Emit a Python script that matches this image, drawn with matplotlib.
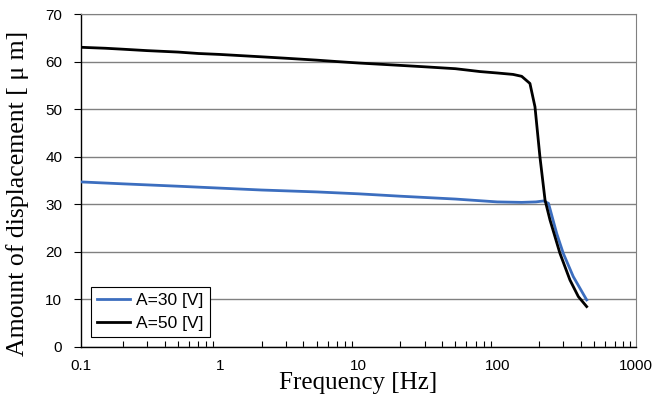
import matplotlib
matplotlib.use("Agg")
import matplotlib.pyplot as plt
from matplotlib.ticker import LogLocator, FixedLocator, NullFormatter

freq_30 = [0.1, 0.2, 0.5, 1, 2, 5, 10, 20, 50, 100, 150, 190, 215, 234, 268, 299, 353, 441]
disp_30 = [34.7, 34.3, 33.8, 33.4, 33.0, 32.6, 32.2, 31.7, 31.1, 30.5, 30.4, 30.5, 30.7, 30.2, 23.9, 19.7, 14.8, 9.9]

freq_50 = [0.1, 0.15, 0.2, 0.3, 0.5, 0.7, 1, 2, 3, 5, 7, 10, 20, 30, 50, 75, 100, 130, 150,
           172, 187, 203, 221, 240, 283, 334, 384, 441]
disp_50 = [63.0, 62.8, 62.6, 62.3, 62.0, 61.7, 61.5, 61.0, 60.7, 60.3, 60.0, 59.7, 59.2, 58.9,
           58.5, 57.9, 57.6, 57.3, 56.9, 55.4, 50.5, 40.0, 30.9, 26.7, 19.7, 14.1, 10.6, 8.5]

x_ticks = [0.1, 1, 10, 100, 1000]
x_labels = ["0.1", "1", "10", "100", "1000"]
y_ticks = [0, 10, 20, 30, 40, 50, 60, 70]

fig = plt.figure(figsize=(6.58, 4.16), dpi=100)
ax = fig.add_axes([81/658, 1-347/416, 555/658, 333/416])

ax.plot(freq_30, disp_30, color="#3c6ebf", lw=2.0, label="A=30 [V]", zorder=3)
ax.plot(freq_50, disp_50, color="black", lw=2.0, label="A=50 [V]", zorder=4)

ax.set_xscale("log")
ax.set_xlim(0.1, 1000)
ax.set_ylim(0, 70)
ax.xaxis.set_major_locator(FixedLocator(x_ticks))
ax.set_xticklabels(x_labels)
ax.xaxis.set_minor_locator(LogLocator(base=10, subs=range(2, 10)))
ax.xaxis.set_minor_formatter(NullFormatter())
ax.set_yticks(y_ticks)

ax.yaxis.grid(True, color="#808080", lw=1.0)
ax.set_axisbelow(True)

for s in ["top", "right"]:
    ax.spines[s].set_color("#808080")
for s in ["left", "bottom"]:
    ax.spines[s].set_color("black")
ax.spines["left"].set_linewidth(1.0)
ax.spines["bottom"].set_linewidth(1.0)

ax.tick_params(axis="x", which="both", direction="in", length=4, width=0.8, pad=9,
               labelsize=11, labelfontfamily="Liberation Sans")
ax.tick_params(axis="x", which="major", length=0)
ax.tick_params(axis="y", which="major", direction="out", length=5, width=0.8, pad=8.5,
               labelsize=11, labelfontfamily="Liberation Sans")

ax.set_xlabel("Frequency [Hz]", family="Liberation Serif", fontsize=18, labelpad=-1)
ax.set_ylabel("Amount of displacement [ μ m]", family="Liberation Serif", fontsize=18.5)
ax.yaxis.set_label_coords(-0.093, 0.46)

leg = ax.legend(loc="lower left", bbox_to_anchor=(0.018, 0.03), borderaxespad=0,
                frameon=True, fancybox=False, edgecolor="black", framealpha=1,
                prop={"family": "Liberation Sans", "size": 12.5}, handlelength=1.9,
                borderpad=0.35, labelspacing=0.45, handletextpad=0.35)
leg.get_frame().set_linewidth(0.8)

fig.savefig("out.png", dpi=100)
